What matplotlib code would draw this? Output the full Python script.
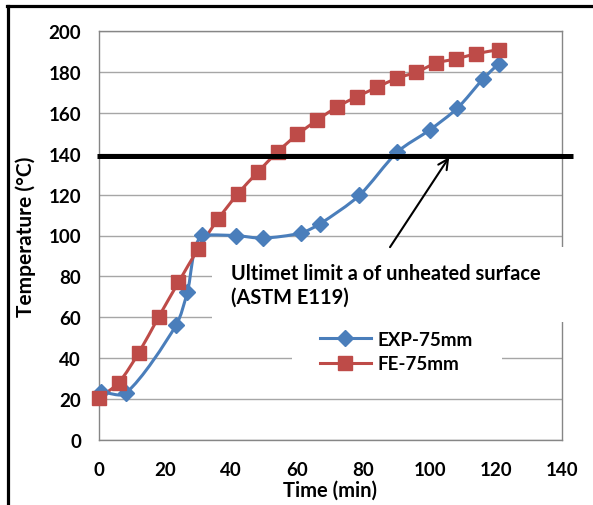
import numpy as np
import matplotlib
matplotlib.use("Agg")
import matplotlib.pyplot as plt
from matplotlib.path import Path
from matplotlib.patches import PathPatch, Rectangle
from matplotlib.lines import Line2D

# Measured unheated-surface temperatures
exp_time = [0.6, 8.1, 23.3, 26.7, 31.0, 41.3, 49.5, 61.0, 66.8, 78.7, 90.2, 100.1, 108.4, 116.2, 120.9]
exp_temp = [23.5, 22.7, 56.0, 72.2, 100.3, 100.0, 98.7, 101.2, 105.7, 119.6, 140.9, 151.8, 162.4, 176.8, 184.2]

# Finite-element prediction
fe_time = [0, 6, 12, 18, 24, 30, 36, 42, 48, 54, 60, 66, 72, 78, 84, 90, 96, 102, 108, 114, 120.8]
fe_temp = [20.3, 28.0, 42.5, 60.0, 77.0, 93.5, 108.0, 120.5, 131.0, 141.0, 149.5, 156.5,
           163.0, 168.0, 172.5, 177.0, 180.0, 184.5, 186.5, 189.0, 191.0]

limit_temp = 139
x_ticks = [0, 20, 40, 60, 80, 100, 120, 140]
y_ticks = [0, 20, 40, 60, 80, 100, 120, 140, 160, 180, 200]

series_labels = ["EXP-75mm", "FE-75mm"]
note_text = "Ultimet limit a of unheated surface\n(ASTM E119)"

BLUE = "#4a7ebb"
RED = "#be4b48"
FONT = "Lato"

plt.rcParams["font.family"] = [FONT, "DejaVu Sans"]
plt.rcParams["font.weight"] = "bold"

W, H = 593, 506
fig = plt.figure(figsize=(5.93, 5.06), dpi=100)
ax = fig.add_axes([99 / W, 1 - 440.7 / H, (562 - 99) / W, (440.7 - 32.3) / H])
ax.set_xlim(0, 140)
ax.set_ylim(0, 200)


def smooth_path(xs, ys, tension=0.27):
    """Cubic Bezier path through the points, tangents built in screen space.
    The leaving control point is kept within the vertical span of its segment
    so flat runs stay flat."""
    p = ax.transData.transform(np.column_stack([xs, ys]).astype(float))
    n = len(p)
    verts = [p[0]]
    codes = [Path.MOVETO]
    for i in range(n - 1):
        p0 = p[i - 1] if i > 0 else p[i]
        p1 = p[i]
        p2 = p[i + 1]
        p3 = p[i + 2] if i + 2 < n else p[i + 1]
        seg = np.linalg.norm(p2 - p1)
        t1 = p2 - p0
        t2 = p3 - p1
        t1 = t1 / np.linalg.norm(t1)
        t2 = t2 / np.linalg.norm(t2)
        c1 = p1 + t1 * seg * tension
        c2 = p2 - t2 * seg * tension
        lo, hi = sorted((p1[1], p2[1]))
        c1[1] = min(max(c1[1], lo), hi)
        verts += [c1, c2, p2]
        codes += [Path.CURVE4] * 3
    return Path(ax.transData.inverted().transform(np.array(verts)), codes)


ax.set_xticks(x_ticks)
ax.set_yticks(y_ticks)
ax.grid(True, axis="y", color="#a6a6a6", linewidth=1.0, zorder=1)
ax.set_axisbelow(True)
for s in ax.spines.values():
    s.set_color("#868686")
    s.set_linewidth(1.0)
ax.tick_params(length=0, labelsize=13.5)
ax.tick_params(axis="y", pad=13)
ax.tick_params(axis="x", pad=15.5)
for lab in ax.get_xticklabels() + ax.get_yticklabels():
    lab.set_fontweight("bold")

# smoothed series lines
ax.add_patch(PathPatch(smooth_path(exp_time, exp_temp), facecolor="none",
                       edgecolor=BLUE, linewidth=2.2, zorder=5))
ax.add_patch(PathPatch(smooth_path(fe_time, fe_temp), facecolor="none",
                       edgecolor=RED, linewidth=2.2, zorder=6))
ax.plot(exp_time, exp_temp, linestyle="none", marker="D", markersize=8.5,
        color=BLUE, zorder=7, clip_on=False)
ax.plot(fe_time, fe_temp, linestyle="none", marker="s", markersize=10.5,
        color=RED, zorder=8, clip_on=False)

# limit line
ax.plot([-0.5, 143.4], [limit_temp, limit_temp], color="black", linewidth=3.6,
        zorder=9, clip_on=False, solid_capstyle="butt")

# annotation box and text
ax.add_patch(Rectangle((34.2, 57.7), 110, 36.8, facecolor="white", edgecolor="none",
                       zorder=3, clip_on=False))
ax.text(40.0, 86.3, note_text, fontsize=14.4, fontweight="bold", ha="left", va="top",
        linespacing=1.22, zorder=10)
ax.annotate("", xy=(105.9, 138.4), xytext=(88.0, 94.3),
            arrowprops=dict(arrowstyle="->", color="black", lw=1.5,
                            mutation_scale=18, shrinkA=0, shrinkB=0), zorder=10)

# legend
ax.add_patch(Rectangle((58.3, 30), 63.5, 26, facecolor="white", edgecolor="none",
                       zorder=3))
handles = [Line2D([], [], color=BLUE, linewidth=2.2, marker="D", markersize=8.5),
           Line2D([], [], color=RED, linewidth=2.2, marker="s", markersize=10.5)]
leg = ax.legend(handles, series_labels, loc="upper left",
                bbox_to_anchor=((320 - 99) / 463, (440.7 - 332) / 408.4),
                frameon=False, borderpad=0, borderaxespad=0, fontsize=13.5,
                handlelength=2.7, handletextpad=0.35, labelspacing=0.4, numpoints=1)
for t in leg.get_texts():
    t.set_fontweight("bold")
leg.set_zorder(11)

ax.set_xlabel("Time (min)", fontsize=14.5, fontweight="bold")
ax.set_ylabel("Temperature (°C)", fontsize=15, fontweight="bold")
ax.xaxis.label.set_va("center")
ax.yaxis.label.set_va("center")
ax.xaxis.set_label_coords((330 - 99) / 463, (440.7 - 491) / 408.4)
ax.yaxis.set_label_coords((26 - 99) / 463, 0.5)

# outer chart frame
fig.add_artist(Line2D([7.5 / W, 7.5 / W], [0, 1 - 6.5 / H], color="black",
                      linewidth=2.3, transform=fig.transFigure))
fig.add_artist(Line2D([6.5 / W, 1], [1 - 6.5 / H, 1 - 6.5 / H], color="black",
                      linewidth=2.3, transform=fig.transFigure))

fig.savefig("out.png", dpi=100)
